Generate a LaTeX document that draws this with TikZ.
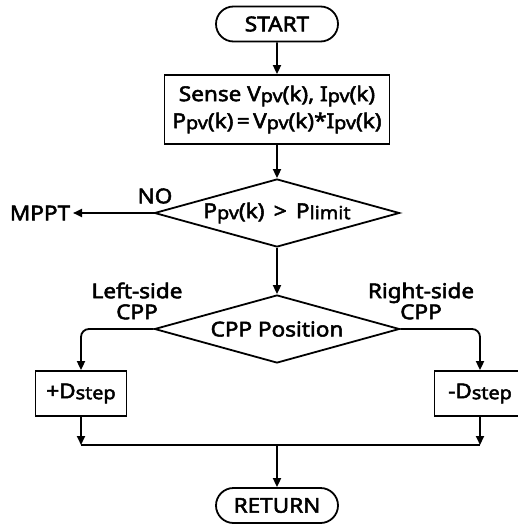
\documentclass[tikz,border=0pt]{standalone}
\usepackage{fontspec}
\setmainfont{Noto Sans}[AutoFakeBold=2.5, FakeStretch=1.1]
\usetikzlibrary{arrows.meta,shapes.geometric,shapes.misc}
% smaller trailing letters used for the variable indices
\newcommand{\idx}[1]{\raisebox{-1pt}{\fontsize{18}{18}\selectfont #1}}

\begin{document}
\begin{tikzpicture}[
  x=1pt, y=-1pt,
  font=\fontsize{20.5}{27}\selectfont\bfseries,
  line width=1.8pt,
  term/.style={draw, rounded rectangle, minimum width=122pt, minimum height=35pt, inner sep=0pt},
  proc/.style={draw, rectangle, inner sep=0pt, align=center},
  decision/.style={draw, diamond, aspect=3.55, minimum width=245pt, minimum height=68pt, inner sep=0pt},
  flow/.style={-{Triangle[length=9pt,width=8pt]}},
  tag/.style={inner sep=1pt, align=center}
]
\clip (0,0) rectangle (518,524);

% main column
\node[term] (start) at (277,24) {START};
\node[proc, minimum width=225pt, minimum height=69pt] (sense) at (277,109.5)
  {Sense V\idx{pv}(k), I\idx{pv}(k)\\P\idx{pv}(k)\,=\,V\idx{pv}(k)*I\idx{pv}(k)};
\node[decision] (limit) at (277,213) {P\idx{pv}(k) \,>\, P\idx{limit}};
\node[decision] (cpp) at (277,329) {CPP Position};
\node[term] (ret) at (277,505.5) {RETURN};

% branch targets
\node[tag, inner sep=2pt] (mppt) at (40,213) {MPPT};
\node[proc, minimum width=91pt, minimum height=45pt] (inc) at (81,393.5) {+D\idx{step}};
\node[proc, minimum width=91pt, minimum height=45pt] (dec) at (480,393.5) {-D\idx{step}};

% branch labels
\node[tag] (no) at (155,196) {NO};
\node[tag] (left) at (137,301) {Left-side\\[-6pt]CPP};
\node[tag] (right) at (421,301) {Right-side\\[-6pt]CPP};

% merge points
\coordinate (jl) at (81,445);
\coordinate (jr) at (480,445);
\coordinate (jm) at (277,445);

% connectors
\draw[flow] (start) -- (sense);
\draw[flow] (sense) -- (limit);
\draw[flow] (limit.west) -- (mppt.east);
\draw[flow] (limit) -- (cpp);
\draw[flow, rounded corners=8pt] (cpp.west) -| (inc.north);
\draw[flow, rounded corners=8pt] (cpp.east) -| (dec.north);
\draw[flow] (inc) -- (jl);
\draw[flow] (dec) -- (jr);
\draw (jl) -- (jr);
\draw[flow] (jm) -- (ret);
\end{tikzpicture}
\end{document}
